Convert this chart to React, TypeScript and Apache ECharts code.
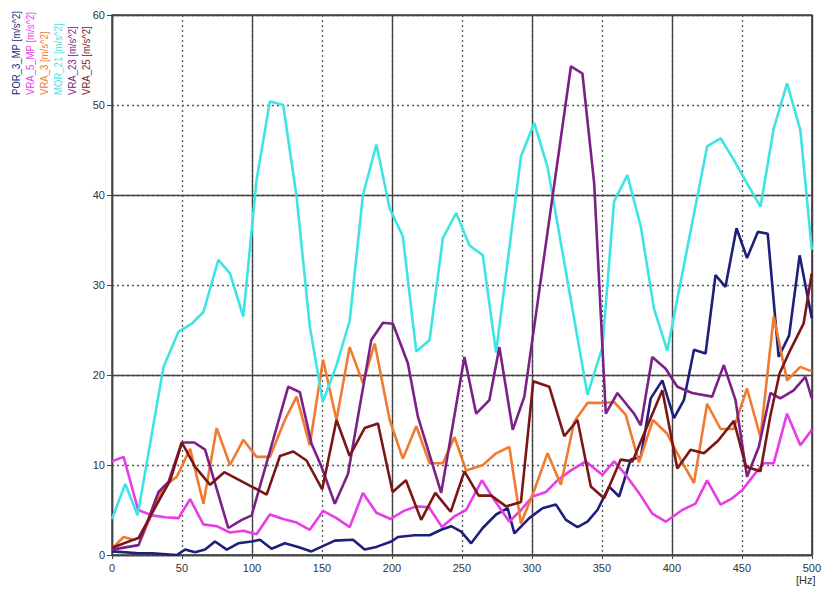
import React, { useEffect, useRef } from "react";
import * as echarts from "echarts";

const FONT = "'Liberation Sans', Arial, sans-serif";

const seriesNames = [
  "POR_3_MP [m/s^2]",
  "VRA_5_MP [m/s^2]",
  "VRA_3 [m/s^2]",
  "MOR_21 [m/s^2]",
  "VRA_23 [m/s^2]",
  "VRA_25 [m/s^2]",
];
const seriesColors = ["#1E1E7C", "#E83CE6", "#F07A30", "#3EE4E4", "#7C2088", "#7A1616"];

const xUnit = "[Hz]";

const por3mp: [number, number][] = [
  [0, 0.4], [19, 0.2], [28.5, 0.2], [46.3, 0.0], [52.2, 0.6], [59.4, 0.3], [66.5, 0.6], [73.6, 1.5],
  [82, 0.6], [90.2, 1.3], [99.8, 1.5], [105.7, 1.7], [114, 0.7], [123.5, 1.3], [133, 0.9], [142.5, 0.4],
  [159.2, 1.6], [172.2, 1.7], [180.5, 0.6], [188.9, 0.9], [199.6, 1.5], [204.3, 2.0], [216.2, 2.2],
  [226.9, 2.2], [235.2, 2.8], [242.3, 3.2], [249.5, 2.6], [256.6, 1.3], [264.9, 3.0], [274.4, 4.5],
  [282.7, 5.2], [287.5, 2.4], [298.1, 4.1], [307.6, 5.2], [317.2, 5.6], [324.3, 3.9], [332.6, 3.1],
  [339.7, 3.7], [346.8, 5.0], [355.2, 7.6], [362.3, 6.5], [370.6, 10.6], [377.8, 10.9], [384.9, 17.4],
  [393.2, 19.4], [401.5, 15.2], [408.6, 17.2], [415.8, 22.8], [424.1, 22.4], [431.2, 31.1], [438.3, 29.8],
  [446.2, 36.3], [453.7, 33.0], [461.4, 35.9], [468.5, 35.7], [476.3, 22.0], [483.8, 24.4], [491.3, 33.3],
  [500, 26.3],
];

const vra5mp: [number, number][] = [
  [0, 10.4], [8.3, 10.9], [18.7, 5.0], [28.5, 4.4], [38, 4.2], [47.5, 4.1], [55.8, 6.2], [65.3, 3.4],
  [74.8, 3.2], [84.3, 2.5], [93.8, 2.7], [103.3, 2.3], [112.8, 4.5], [122.3, 4.0], [131.9, 3.6],
  [141.3, 2.8], [150.8, 4.9], [160.4, 4.1], [169.8, 3.1], [179.3, 6.9], [188.9, 4.7], [199, 4.0],
  [208.5, 4.9], [217.4, 5.4], [226.5, 5.3], [235.8, 3.1], [244.7, 4.3], [253, 5.0], [264.3, 8.3],
  [273.2, 6.1], [283.9, 3.7], [292.2, 5.0], [300.5, 6.5], [310, 7.0], [318.3, 8.3], [327.9, 9.4],
  [338.6, 10.4], [350.4, 8.9], [358.7, 10.4], [367.1, 8.9], [376.5, 6.9], [386, 4.6], [395.6, 3.7],
  [407.4, 5.0], [416.9, 5.7], [425.2, 8.3], [434.8, 5.6], [443.1, 6.3], [450.2, 7.2], [459.7, 9.1],
  [465.6, 10.2], [472.8, 10.2], [482.3, 15.7], [491.8, 12.2], [500, 13.9],
];

const vra3: [number, number][] = [
  [0, 0.7], [8.3, 2.0], [15.4, 1.7], [21.4, 2.0], [36.8, 7.6], [46.3, 8.7], [55.8, 11.8], [65.3, 5.7],
  [74.8, 14.1], [84.3, 10.0], [93.8, 12.8], [103.3, 10.9], [112.8, 10.9], [123.5, 15.0], [131.9, 17.6],
  [141.3, 12.2], [150.8, 21.7], [160.4, 15.0], [169.8, 23.1], [179.3, 19.1], [187.7, 23.5], [198.4, 15.0],
  [207.8, 10.7], [217.4, 14.3], [226.9, 10.2], [236.4, 10.2], [244.7, 13.1], [253, 9.4], [265, 10.0],
  [274.4, 11.3], [283.9, 12.0], [292.2, 3.5], [301.7, 7.2], [311.2, 11.3], [320.7, 7.8], [330.2, 14.8],
  [339.7, 16.9], [352.8, 16.9], [358.7, 17.0], [367, 15.6], [376.5, 10.3], [386.5, 15.0], [396.5, 13.5],
  [406.3, 10.6], [415.8, 8.0], [425.2, 16.8], [434.8, 14.0], [444, 14.0], [453.7, 18.5], [463.3, 13.1],
  [472.8, 26.5], [482.3, 19.4], [491.8, 20.9], [500, 20.4],
];

const mor21: [number, number][] = [
  [0, 4.0], [9.5, 7.9], [18.3, 4.4], [36.8, 20.9], [47.5, 24.8], [57, 25.7], [65.3, 27.0], [76, 32.8],
  [84.3, 31.3], [93.8, 26.5], [103.3, 41.7], [112.8, 50.4], [122.3, 50.0], [131.9, 39.8], [141.3, 25.4],
  [150.6, 17.0], [160.4, 21.1], [169.8, 26.0], [179.3, 40.0], [188.9, 45.6], [198.4, 38.5], [207.8, 35.4],
  [217.4, 22.6], [226.9, 23.9], [236.4, 35.2], [245.9, 38.0], [255.4, 34.4], [264.9, 33.3], [274.4, 22.5],
  [292.2, 44.3], [301.7, 48.0], [311.2, 43.1], [339.7, 17.8], [350.4, 23.1], [358.7, 39.3], [368.2, 42.2],
  [377.8, 36.5], [387.2, 27.4], [396.7, 22.7], [425.2, 45.4], [434.8, 46.3], [444.3, 43.9], [453.7, 41.3],
  [463.3, 38.7], [472.8, 47.4], [482.3, 52.4], [491.8, 47.2], [500, 33.9],
];

const vra23: [number, number][] = [
  [0, 0.6], [19, 1.1], [33.2, 7.0], [40.3, 8.1], [49.9, 12.5], [58.8, 12.5], [66.5, 11.7], [83.1, 3.0],
  [92.7, 3.9], [99.8, 4.4], [125.9, 18.7], [134.2, 18.1], [142.5, 12.4], [149.7, 9.8], [159.2, 5.7],
  [168.6, 9.0], [185.3, 23.9], [193.6, 25.8], [200.7, 25.7], [211.4, 21.3], [218.5, 15.4], [235.2, 6.9],
  [251.8, 22.0], [260.2, 15.7], [269.6, 17.2], [276.8, 23.1], [286.3, 13.9], [294.6, 17.6], [327.9, 54.3],
  [336.1, 53.5], [344.5, 41.3], [352.8, 15.7], [361.1, 18.0], [373, 15.7], [377.8, 14.4], [386, 22.0],
  [395.6, 20.7], [403.9, 18.7], [414.5, 18.0], [428.8, 17.6], [437.1, 21.1], [445.5, 17.2], [453.7, 8.7],
  [462.1, 12.0], [470.4, 18.0], [477.5, 17.4], [487, 18.3], [495.4, 19.8], [500, 17.4],
];

const vra25: [number, number][] = [
  [0, 0.8], [19, 1.9], [34.4, 6.3], [41.6, 8.3], [49.9, 12.5], [59.4, 9.8], [70.1, 7.8], [80.2, 9.2],
  [99.8, 7.6], [110.5, 6.7], [120, 11.0], [129.5, 11.5], [139, 10.5], [150.2, 7.3], [160.4, 15.0],
  [169.8, 11.0], [180.5, 14.1], [190, 14.6], [200.5, 7.0], [210, 8.3], [220.9, 3.9], [231, 6.9],
  [242, 4.8], [251.8, 9.3], [262, 6.6], [271, 6.6], [281.5, 5.4], [292.2, 5.9], [301, 19.3], [312.4, 18.7],
  [323.1, 13.2], [332.6, 15.0], [342.1, 7.6], [351.6, 6.3], [363.5, 10.6], [371.8, 10.4], [393.2, 18.3],
  [403.9, 9.6], [413.4, 11.7], [422.9, 11.3], [433, 12.7], [444.3, 14.9], [453, 9.8], [463.3, 9.3],
  [470.4, 15.5], [477, 20.2], [484.7, 22.8], [494.1, 25.7], [500, 31.3],
];

const seriesData = [por3mp, vra5mp, vra3, mor21, vra23, vra25];

export default function App() {
  const ref = useRef<HTMLDivElement>(null);

  useEffect(() => {
    if (!ref.current) return;
    const chart = echarts.init(ref.current, null, { renderer: "svg" });

    const dotted = { type: [2, 3] as any, color: "#555", width: 1.3 };
    const solid = { type: "solid" as any, color: "#444", width: 1.4 };
    const labelStyle = { fontSize: 11, color: "#333", fontFamily: FONT };

    const legendTexts = seriesNames.map((name, i) => ({
      type: "text",
      x: 16 + i * 14.1,
      y: 95,
      rotation: Math.PI / 2,
      scaleX: 0.87,
      style: {
        text: name,
        fill: seriesColors[i],
        font: `11px ${FONT}`,
        align: "left",
        verticalAlign: "middle",
      },
    }));

    chart.setOption({
      animation: false,
      backgroundColor: "#ffffff",
      grid: {
        left: 112,
        right: 11,
        top: 15,
        bottom: 34,
        show: true,
        borderColor: "#444",
        borderWidth: 1.4,
        backgroundColor: "transparent",
      },
      xAxis: [
        {
          type: "value",
          min: 0,
          max: 500,
          interval: 50,
          axisLine: { show: true, lineStyle: { color: "#444", width: 1.4 } },
          axisTick: { show: true, length: 4, lineStyle: { color: "#444" } },
          axisLabel: { ...labelStyle, margin: 7 },
          splitLine: { show: true, lineStyle: dotted },
        },
        {
          type: "value",
          min: 0,
          max: 500,
          interval: 100,
          position: "bottom",
          axisLine: { show: false },
          axisTick: { show: false },
          axisLabel: { show: false },
          splitLine: { show: true, lineStyle: solid },
        },
      ],
      yAxis: [
        {
          type: "value",
          min: 0,
          max: 60,
          interval: 10,
          axisLine: { show: true, lineStyle: { color: "#444", width: 1.4 } },
          axisTick: { show: true, length: 5, lineStyle: { color: "#444" } },
          axisLabel: { ...labelStyle, margin: 7 },
          splitLine: { show: true, lineStyle: dotted },
        },
        {
          type: "value",
          min: 0,
          max: 60,
          interval: 20,
          position: "left",
          axisLine: { show: false },
          axisTick: { show: false },
          axisLabel: { show: false },
          splitLine: { show: true, lineStyle: solid },
        },
      ],
      graphic: [
        ...legendTexts,
        {
          type: "text",
          x: 796,
          y: 574,
          style: { text: xUnit, fill: "#333", font: `11px ${FONT}` },
        },
      ],
      series: seriesData.map((d, i) => ({
        name: seriesNames[i],
        type: "line",
        xAxisIndex: 0,
        yAxisIndex: 0,
        data: d,
        showSymbol: false,
        symbol: "none",
        lineStyle: { color: seriesColors[i], width: 2.6 },
        itemStyle: { color: seriesColors[i] },
        z: 3 + i,
      })),
    });

    return () => chart.dispose();
  }, []);

  return (
    <div
      ref={ref}
      style={{ position: "absolute", left: 0, top: 0, width: 824, height: 589 }}
    />
  );
}
